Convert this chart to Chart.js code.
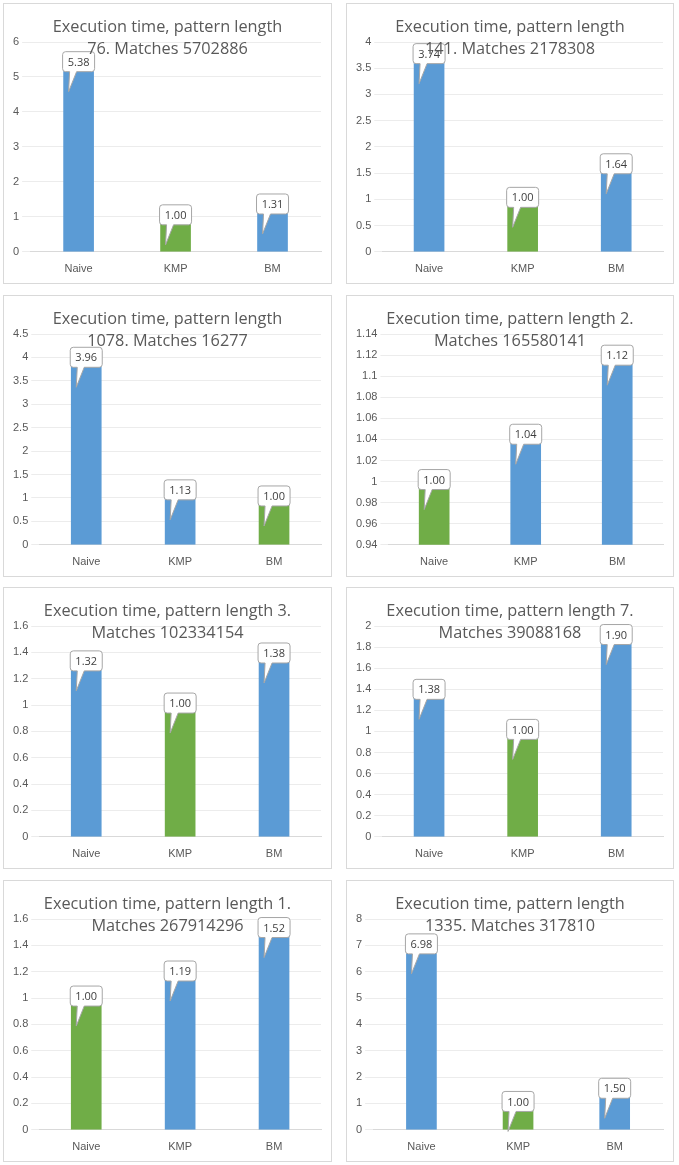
<!DOCTYPE html><html><head><script src="https://cdn.jsdelivr.net/npm/chart.js@4"></script>
<style>body{margin:0;background:#fff;font-family:"Open Sans",Calibri,sans-serif}
.p{position:absolute;border:1px solid #d9d9d9;background:#fff;box-sizing:border-box}
.t{position:absolute;left:0;right:0;top:11px;text-align:center;color:#595959;font-size:16.3px;line-height:22px;pointer-events:none}
</style></head><body>
<script>
const categories=["Naive","KMP","BM"];
const titles=[["Execution time, pattern length","76. Matches 5702886"],["Execution time, pattern length","141. Matches 2178308"],["Execution time, pattern length","1078. Matches 16277"],["Execution time, pattern length 2.","Matches 165580141"],["Execution time, pattern length 3.","Matches 102334154"],["Execution time, pattern length 7.","Matches 39088168"],["Execution time, pattern length 1.","Matches 267914296"],["Execution time, pattern length","1335. Matches 317810"]];
const values=[[5.38,1.00,1.31],[3.74,1.00,1.64],[3.96,1.13,1.00],[1.00,1.043,1.118],[1.32,1.00,1.38],[1.38,1.00,1.90],[1.00,1.19,1.52],[6.98,1.00,1.50]];
const yMin=[0,0,0,0.94,0,0,0,0];
const yMax=[6,4,4.5,1.14,1.6,2,1.6,8];
const yStep=[1,0.5,0.5,0.02,0.2,0.2,0.2,1];
const pos=[[3,3,329,281],[346,3,328,281],[3,295,329,282],[346,295,328,282],[3,587,329,282],[346,587,328,282],[3,880,329,282],[346,880,328,282]];
const callout={id:'callout',afterDatasetsDraw(c){const ctx=c.ctx;const m=c.getDatasetMeta(0);
 m.data.forEach((b,i)=>{const v=c.data.datasets[0].data[i];const t=v.toFixed(2);
 const w=32,h=20,x=b.x-w/2,y=b.y-12;ctx.save();ctx.beginPath();
 const r=3;ctx.moveTo(x+r,y);ctx.lineTo(x+w-r,y);ctx.quadraticCurveTo(x+w,y,x+w,y+r);ctx.lineTo(x+w,y+h-r);ctx.quadraticCurveTo(x+w,y+h,x+w-r,y+h);
 ctx.lineTo(x+14,y+h);ctx.lineTo(x+6,y+h+20);ctx.lineTo(x+7,y+h);ctx.lineTo(x+r,y+h);ctx.quadraticCurveTo(x,y+h,x,y+h-r);ctx.lineTo(x,y+r);ctx.quadraticCurveTo(x,y,x+r,y);ctx.closePath();
 ctx.fillStyle='#fff';ctx.fill();ctx.strokeStyle='#a6a6a6';ctx.lineWidth=1;ctx.stroke();
 ctx.fillStyle='#404040';ctx.font='11px "Open Sans"';ctx.textAlign='center';ctx.textBaseline='middle';ctx.fillText(t,b.x,y+h/2+1);ctx.restore();});}};
titles.forEach((tt,k)=>{const d=document.createElement('div');d.className='p';const[p0,p1,w,h]=pos[k];
 d.style.left=p0+'px';d.style.top=p1+'px';d.style.width=w+'px';d.style.height=h+'px';
 const cv=document.createElement('canvas');d.appendChild(cv);
 const td=document.createElement('div');td.className='t';td.innerHTML=tt.join('<br>');d.appendChild(td);
 document.body.appendChild(d);
 const mn=Math.min(...values[k]);
 new Chart(cv,{type:'bar',data:{labels:categories,datasets:[{data:values[k],
  backgroundColor:values[k].map(v=>v===mn?'#70AD47':'#5B9BD5'),barThickness:30}]},
  options:{responsive:true,maintainAspectRatio:false,animation:false,
  layout:{padding:{left:6,right:10,top:38,bottom:4}},
  plugins:{legend:{display:false},tooltip:{enabled:false},title:{display:false}},
  scales:{x:{grid:{display:false},border:{color:'#d9d9d9'},ticks:{color:'#595959',font:{size:11}}},
  y:{min:yMin[k],max:yMax[k],ticks:{stepSize:yStep[k],color:'#595959',font:{size:11},callback:v=>+v.toFixed(2)},grid:{color:'#ececec'},border:{display:false}}}},
  plugins:[callout]});});
</script></body></html>
